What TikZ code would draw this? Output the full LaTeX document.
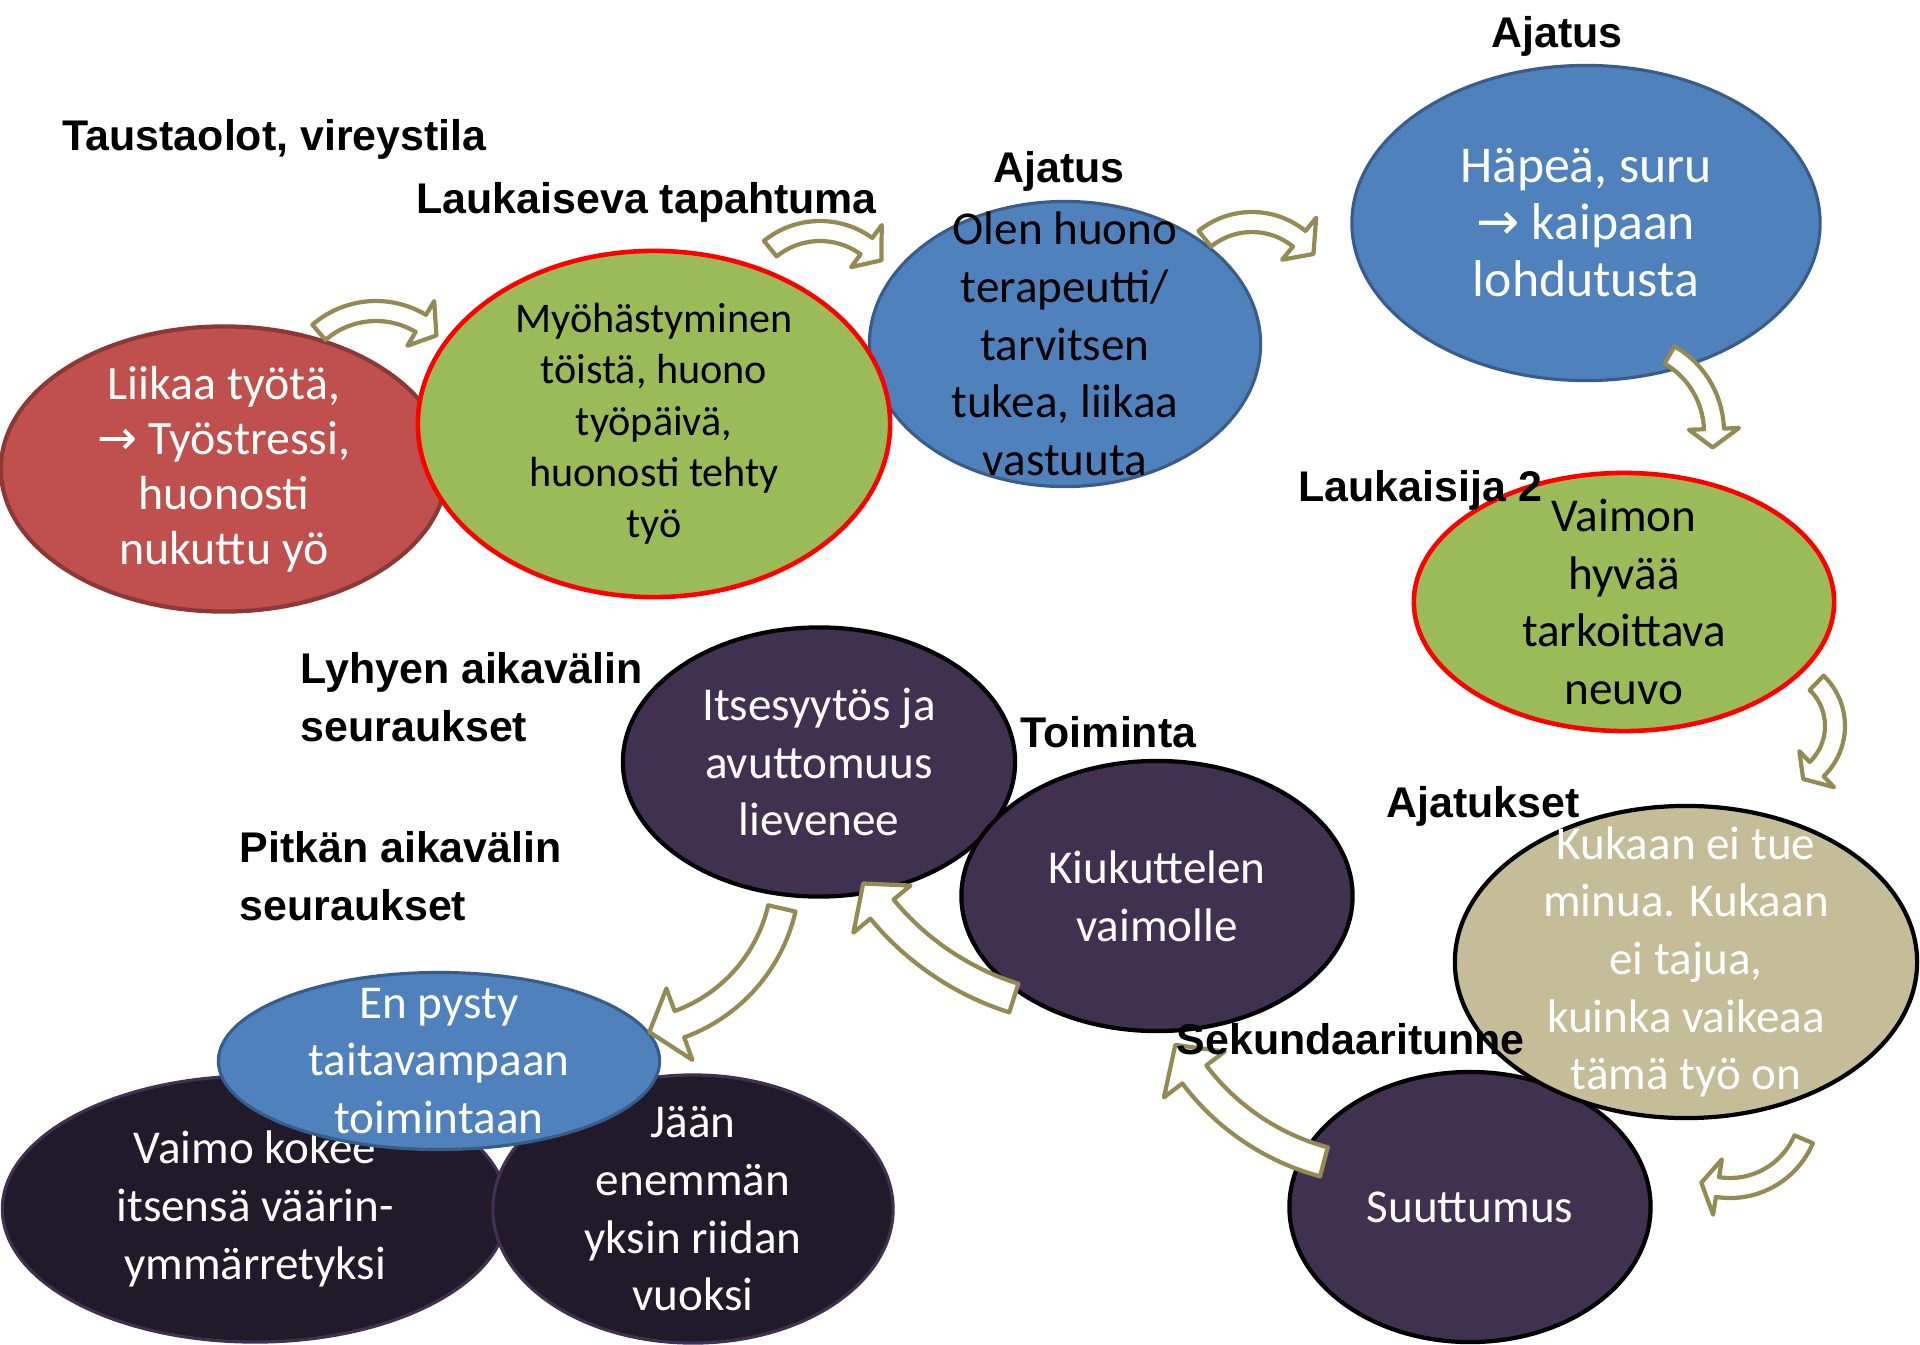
\documentclass[tikz,border=0pt]{standalone}
\usepackage{fontspec}
\setmainfont{Carlito}
\newfontfamily\labelfont{Liberation Sans}
\newfontfamily\symfont{DejaVu Sans}
\usetikzlibrary{shapes.geometric}

\definecolor{redfill}{HTML}{C0504D}
\definecolor{redline}{HTML}{8C3836}
\definecolor{greenfill}{HTML}{9BBB59}
\definecolor{bluefill}{HTML}{4F81BD}
\definecolor{blueline}{HTML}{385D8A}
\definecolor{tanfill}{HTML}{C4BD97}
\definecolor{plumfill}{HTML}{403151}
\definecolor{nightfill}{HTML}{211A2A}
\definecolor{arrowline}{HTML}{948A54}

\tikzset{
  bubble/.style={ellipse, inner sep=-2cm, align=center, line width=1.2pt,
    font=\fontsize{13.4}{16.4}\selectfont},
  stage/.style={inner sep=0pt, align=left,
    font=\labelfont\bfseries\fontsize{12.2}{16.4}\selectfont},
  bentline/.style={draw=arrowline, fill=white, line width=1.2pt, line join=round}
}

\begin{document}
\begin{tikzpicture}[x=0.01cm, y=-0.01cm]
\newcommand\bentarrow[8]{
    \draw [bentline, shift={(#1, #2)}] (#4:{#3+#7}) arc [start angle=#4, end angle=#5, radius={#3+#7}]
        -- (#5:{#3+#8}) -- (#6:#3) -- (#5:{#3-#8}) -- (#5:{#3-#7})
        arc [start angle=#5, end angle=#4, radius={#3-#7}] -- cycle;
}
\path [use as bounding box, fill=white] (0, 0) rectangle (1920, 1345);

\node (overload) at (224, 469) [bubble, fill=redfill, draw=redline, minimum width=4.46cm, minimum height=2.85cm, text=white, font=\fontsize{13.6}{15.6}\selectfont] {Liikaa työtä,\\{\symfont →} Työstressi,\\huonosti\\nukuttu yö};
\node (thought) at (1065, 344) [bubble, fill=bluefill, draw=blueline, line width=0.9pt, minimum width=3.91cm, minimum height=2.85cm] {Olen huono\\terapeutti/\\tarvitsen\\tukea, liikaa\\vastuuta};
\node (trigger) at (654, 424) [bubble, fill=greenfill, draw=red, line width=1.3pt, minimum width=4.72cm, minimum height=3.46cm, font=\fontsize{12}{14.6}\selectfont] {Myöhästyminen\\töistä, huono\\työpäivä,\\huonosti tehty\\työ};
\node (shame) at (1586, 223) [bubble, fill=bluefill, draw=blueline, line width=0.9pt, minimum width=4.68cm, minimum height=3.15cm, text=white, font=\fontsize{14.7}{16.2}\selectfont] {Häpeä, suru\\{\symfont →} kaipaan\\lohdutusta};
\node (advice) at (1624, 602) [bubble, fill=greenfill, draw=red, line width=1.3pt, minimum width=4.20cm, minimum height=2.58cm] {Vaimon\\hyvää\\tarkoittava\\neuvo};
\node (anger) at (1470, 1207) [bubble, fill=plumfill, draw=black, minimum width=3.61cm, minimum height=2.70cm, text=white] {Suuttumus};
\node (thoughts) at (1686, 962) [bubble, fill=tanfill, draw=black, minimum width=4.62cm, minimum height=3.12cm, text=white] {Kukaan ei tue\\minua. Kukaan\\ei tajua,\\kuinka vaikeaa\\tämä työ on};
\node (relief) at (819, 762) [bubble, fill=plumfill, draw=black, minimum width=3.92cm, minimum height=2.69cm, text=white] {Itsesyytös ja\\avuttomuus\\lievenee};
\node (action) at (1157, 896) [bubble, fill=plumfill, draw=black, minimum width=3.91cm, minimum height=2.70cm, text=white] {Kiukuttelen\\vaimolle};
\node (wife) at (255, 1209) [bubble, fill=nightfill, draw=plumfill, line width=0.9pt, minimum width=5.05cm, minimum height=2.66cm, text=white] {Vaimo kokee\\itsensä väärin-\\ymmärretyksi};
\node (alone) at (693, 1209) [bubble, fill=nightfill, draw=plumfill, line width=0.9pt, minimum width=4.00cm, minimum height=2.68cm, text=white] {Jään\\enemmän\\yksin riidan\\vuoksi};
\node (unable) at (439, 1061) [bubble, fill=bluefill, draw=blueline, line width=0.9pt, minimum width=4.41cm, minimum height=1.77cm, text=white] {En pysty\\taitavampaan\\toimintaan};

\bentarrow{376}{398}{87}{229}{301}{314}{10}{26}
\bentarrow{820}{310}{79}{231}{306}{321}{10}{26}
\bentarrow{1252}{297}{75}{231}{309}{325}{10}{27}
\bentarrow{1625}{432}{89}{-60}{-2}{10}{10}{25}
\bentarrow{1775}{726}{60}{-46}{46}{62}{10}{25}
\bentarrow{1730}{1108}{80}{23}{99}{111}{10}{28}
\bentarrow{1386}{930}{240}{105}{143}{151.4}{15}{38}
\bentarrow{1098}{731}{280}{107.5}{140.5}{147}{15}{37}
\bentarrow{624}{872}{162}{13}{70}{81}{14}{38}

\node (lbackground) at (62, 150) [stage, anchor=base west] {Taustaolot, vireystila};
\node (ltrigger) at (416, 213) [stage, anchor=base west] {Laukaiseva tapahtuma};
\node (lthought) at (1059, 182) [stage, anchor=base] {Ajatus};
\node (lshame) at (1557, 47) [stage, anchor=base] {Ajatus};
\node (ladvice) at (1298, 501) [stage, anchor=base west] {Laukaisija 2};
\node (lthoughts) at (1386, 817) [stage, anchor=base west] {Ajatukset};
\node (langer) at (1176, 1054) [stage, anchor=base west] {Sekundaaritunne};
\node (laction) at (1020, 747) [stage, anchor=base west] {Toiminta};
\node (lshort) at (300, 652) [stage, anchor=north west] {Lyhyen aikavälin\\seuraukset};
\node (llong) at (239, 831) [stage, anchor=north west] {Pitkän aikavälin\\seuraukset};
\end{tikzpicture}
\end{document}
